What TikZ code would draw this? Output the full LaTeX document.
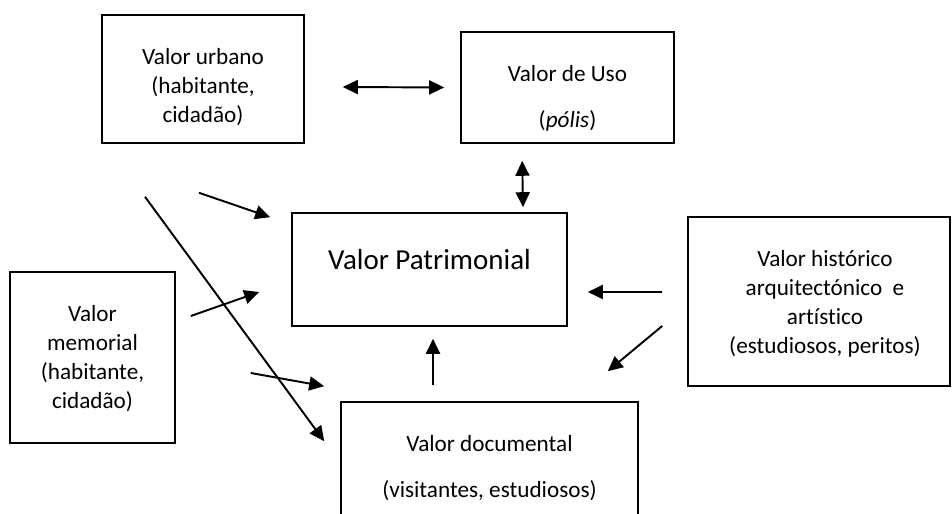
\documentclass[tikz,border=0pt]{standalone}
\usepackage{fontspec}
\setmainfont{Carlito}[Ligatures=NoCommon]
\usetikzlibrary{arrows.meta}
\begin{document}
\begin{tikzpicture}[
  caixa/.style={draw, line width=0.9pt, inner sep=0pt},
  texto/.style={align=center, font=\fontsize{13.2}{16.5}\selectfont},
  seta/.style={line width=1.1pt, -{Triangle[length=0.3cm,width=0.28cm]}},
  dupla/.style={line width=1.1pt, {Triangle[length=0.3cm,width=0.28cm]}-{Triangle[length=0.3cm,width=0.28cm]}}]
\clip (0,0) rectangle (19.04,10.28);
\node[caixa, minimum width=4.04cm, minimum height=2.56cm] (urbano) at (4.06,8.70) {};
\node[caixa, minimum width=4.26cm, minimum height=2.22cm] (uso) at (11.35,8.53) {};
\node[caixa, minimum width=5.50cm, minimum height=2.26cm] (patrim) at (8.59,4.89) {};
\node[caixa, minimum width=5.24cm, minimum height=3.38cm] (hist) at (16.38,4.25) {};
\node[caixa, minimum width=3.30cm, minimum height=3.42cm] (memorial) at (1.85,3.13) {};
\node[caixa, minimum width=5.94cm, minimum height=2.56cm] (documental) at (9.79,0.96) {};
\node[texto] (urbanotxt) at ([yshift=-0.17cm]urbano.center) {Valor urbano\\(habitante,\\cidadão)};
\node[texto] (usotxt) at ([yshift=-0.22cm]uso.center) {Valor de Uso\\[10pt](\textit{pólis})};
\node[texto, font=\fontsize{16.5}{20}\selectfont] (patrimtxt) at ([yshift=0.19cm]patrim.center) {Valor Patrimonial};
\node[texto] (histtxt) at ([xshift=0.12cm,yshift=-0.05cm]hist.center) {Valor histórico\\arquitectónico \ e\\artístico\\(estudiosos, peritos)};
\node[texto] (memorialtxt) at ([yshift=-0.03cm]memorial.center) {Valor\\memorial\\(habitante,\\cidadão)};
\node[texto] (documentaltxt) at ([yshift=-0.04cm]documental.center) {Valor documental\\[10pt](visitantes, estudiosos)};
\draw[dupla] ([xshift=0.76cm,yshift=-0.16cm]urbano.east) -- ([xshift=-0.32cm]uso.west);
\draw[dupla] ([xshift=1.24cm,yshift=-0.34cm]uso.south west) -- ([xshift=1.87cm,yshift=0.10cm]patrim.north);
\draw[seta] ([xshift=-0.08cm,yshift=-0.98cm]urbano.south) -- ([xshift=-0.42cm,yshift=-0.10cm]patrim.north west);
\draw[seta] ([xshift=-1.16cm,yshift=-1.06cm]urbano.south) -- ([xshift=-0.32cm,yshift=-0.80cm]documental.north west);
\draw[seta] ([xshift=0.30cm,yshift=0.83cm]memorial.east) -- ([xshift=-0.64cm,yshift=-0.45cm]patrim.west);
\draw[seta] ([xshift=1.50cm,yshift=-0.31cm]memorial.east) -- ([xshift=-0.32cm,yshift=0.30cm]documental.north west);
\draw[seta] ([xshift=-1.13cm,yshift=0.32cm]documental.north) -- ([xshift=0.07cm,yshift=-0.24cm]patrim.south);
\draw[seta] ([xshift=-0.50cm,yshift=0.19cm]hist.west) -- ([xshift=0.40cm,yshift=-0.45cm]patrim.east);
\draw[seta] ([xshift=-0.50cm,yshift=-0.49cm]hist.west) -- ([xshift=-0.62cm,yshift=0.60cm]documental.north east);
\end{tikzpicture}
\end{document}
